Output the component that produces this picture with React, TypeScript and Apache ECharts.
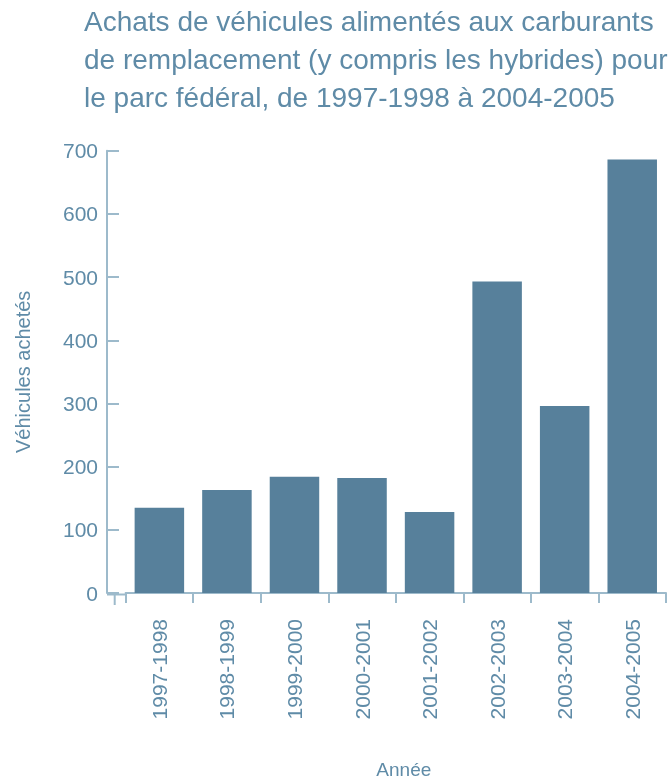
import React, { useEffect, useRef } from "react";
import * as echarts from "echarts";

const categories = ["1997-1998", "1998-1999", "1999-2000", "2000-2001", "2001-2002", "2002-2003", "2003-2004", "2004-2005"];
const purchases = [135, 163, 184, 182, 128, 493, 296, 686];
const yTicks = { min: 0, max: 700, interval: 100 };

const TEXT = "#5f8ba7";
const BAR = "#57809b";
const AXIS = "#9dbacb";
const FONT = "'Liberation Sans', Arial, sans-serif";

export default function App() {
  const ref = useRef<HTMLDivElement>(null);
  useEffect(() => {
    if (!ref.current) return;
    const chart = echarts.init(ref.current, undefined, { renderer: "svg" });
    chart.setOption({
      animation: false,
      title: {
        text: "Achats de véhicules alimentés aux carburants\nde remplacement (y compris les hybrides) pour\nle parc fédéral, de 1997-1998 à 2004-2005",
        left: 79,
        top: -3,
        textStyle: { color: TEXT, fontSize: 28, lineHeight: 38, fontWeight: "normal", fontFamily: FONT },
      },
      grid: { left: 125.6, right: 2, top: 150.7, bottom: 189.5, containLabel: false },
      xAxis: {
        type: "category",
        data: categories,
        name: "Année",
        nameLocation: "middle",
        nameGap: 167,
        nameTextStyle: { color: TEXT, fontSize: 19, fontFamily: FONT, padding: [0, 0, 0, 16] },
        axisLine: { lineStyle: { color: AXIS, width: 2 } },
        axisTick: { show: true, inside: false, length: 10, lineStyle: { color: AXIS, width: 2 } },
        axisLabel: { rotate: 90, color: TEXT, fontSize: 21, fontFamily: FONT, margin: 26 },
      },
      yAxis: {
        type: "value",
        min: yTicks.min,
        max: yTicks.max,
        interval: yTicks.interval,
        offset: 18.6,
        name: "Véhicules achetés",
        nameLocation: "middle",
        nameGap: 74,
        nameTextStyle: { color: TEXT, fontSize: 20, fontFamily: FONT },
        splitLine: { show: false },
        axisLine: { show: true, lineStyle: { color: AXIS, width: 2 } },
        axisTick: { show: true, inside: true, length: 12, lineStyle: { color: AXIS, width: 2 } },
        axisLabel: { color: TEXT, fontSize: 21, fontFamily: FONT, margin: 9 },
      },
      graphic: [
        { type: "line", shape: { x1: 107, y1: 594.5, x2: 126, y2: 594.5 }, style: { stroke: AXIS, lineWidth: 2 }, silent: true },
        { type: "line", shape: { x1: 114.7, y1: 594.5, x2: 114.7, y2: 605 }, style: { stroke: AXIS, lineWidth: 2 }, silent: true },
      ],
      series: [
        {
          type: "bar",
          data: purchases,
          barWidth: 49.5,
          itemStyle: { color: BAR },
        },
      ],
    });
    return () => chart.dispose();
  }, []);
  return <div ref={ref} style={{ position: "fixed", left: 0, top: 0, width: 668, height: 784 }} />;
}
